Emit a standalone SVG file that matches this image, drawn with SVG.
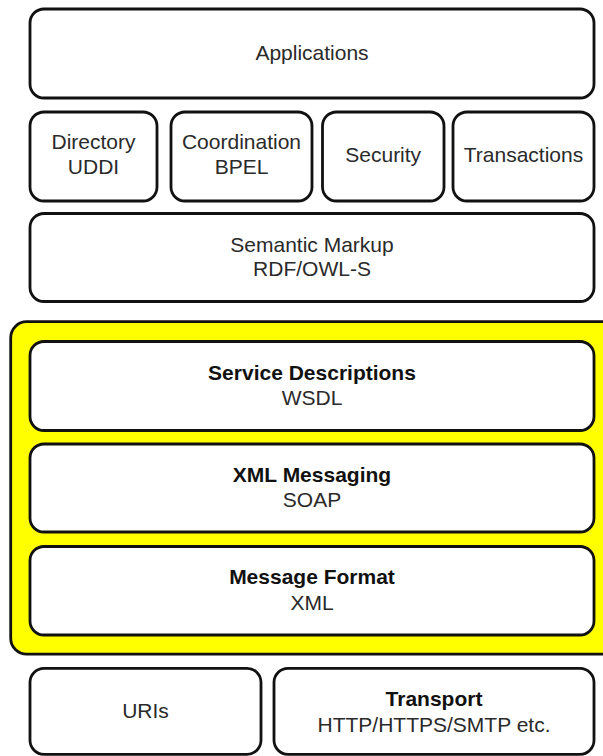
<svg xmlns="http://www.w3.org/2000/svg" width="603" height="756" viewBox="0 0 603 756">
<style>
.box{fill:#fff;stroke:#111;stroke-width:2.8}
.hl{fill:#ffff00;stroke:#111;stroke-width:2.8}
text{font-family:"Liberation Sans",Arial,sans-serif;font-size:21px;text-anchor:middle;fill:#2a2a2a}
.b{font-weight:bold;fill:#111}
</style>
<rect width="603" height="756" fill="#fff"/>
<g id="applications"><rect class="box" x="30" y="9" width="564" height="89" rx="14"/><text x="312" y="60">Applications</text></g>
<g id="directory"><rect class="box" x="30" y="112" width="127" height="89" rx="14"/><text x="93.5" y="149">Directory</text><text x="93.5" y="174">UDDI</text></g>
<g id="coordination"><rect class="box" x="171" y="112" width="141" height="89" rx="14"/><text x="241.5" y="149">Coordination</text><text x="241.5" y="174">BPEL</text></g>
<g id="security"><rect class="box" x="322.5" y="112" width="121.5" height="89" rx="14"/><text x="383.2" y="162">Security</text></g>
<g id="transactions"><rect class="box" x="453" y="112" width="141" height="89" rx="14"/><text x="523.5" y="162">Transactions</text></g>
<g id="semantic"><rect class="box" x="30" y="213.5" width="564" height="88" rx="14"/><text x="312" y="251.5">Semantic Markup</text><text x="312" y="276">RDF/OWL-S</text></g>
<g id="core"><rect class="hl" x="10.7" y="321.7" width="610" height="332.5" rx="16"/></g>
<g id="service"><rect class="box" x="30" y="341.5" width="564" height="89" rx="14"/><text class="b" x="312" y="379.5">Service Descriptions</text><text x="312" y="404.5">WSDL</text></g>
<g id="messaging"><rect class="box" x="30" y="444" width="564" height="88" rx="14"/><text class="b" x="312" y="481.7">XML Messaging</text><text x="312" y="507">SOAP</text></g>
<g id="format"><rect class="box" x="30" y="546.5" width="564" height="88.5" rx="14"/><text class="b" x="312" y="584">Message Format</text><text x="312" y="610">XML</text></g>
<g id="uris"><rect class="box" x="30" y="668.3" width="231" height="86" rx="14"/><text x="145.5" y="718.3">URIs</text></g>
<g id="transport"><rect class="box" x="274" y="668.3" width="320" height="86" rx="14"/><text class="b" x="434" y="706">Transport</text><text x="434" y="731.5">HTTP/HTTPS/SMTP etc.</text></g>
<g id="connectors"></g>
</svg>
